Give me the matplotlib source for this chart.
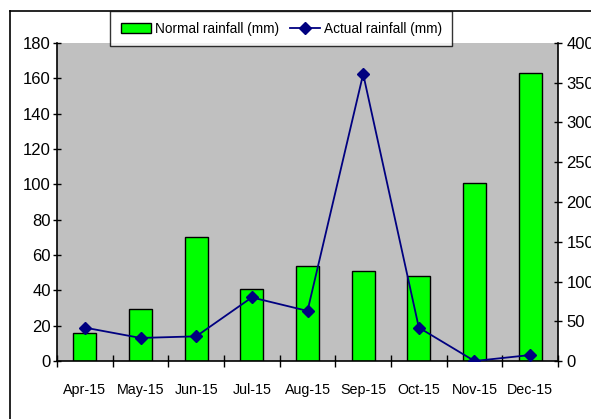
import matplotlib
matplotlib.use("Agg")
import matplotlib.pyplot as plt
import numpy as np
from matplotlib.lines import Line2D

months = ["Apr-15", "May-15", "Jun-15", "Jul-15", "Aug-15", "Sep-15", "Oct-15", "Nov-15", "Dec-15"]
normal_rainfall = [16, 29.5, 70, 41, 54, 51, 48, 101, 163]
actual_rainfall = [42, 29, 31, 80, 63, 361, 42, 0, 7.5]
left_ticks = list(range(0, 181, 20))
right_ticks = list(range(0, 401, 50))

plt.rcParams['font.family'] = ['Liberation Sans', 'DejaVu Sans']

W, H = 591, 419
fig = plt.figure(figsize=(W / 100, H / 100), dpi=100)
fig.patch.set_facecolor('white')

ax = fig.add_axes([57 / W, 1 - 361 / H, (558 - 57) / W, (361 - 43) / H])
ax.set_facecolor('#C0C0C0')
x = np.arange(len(months))

bars = ax.bar(x, normal_rainfall, width=0.41, color='#00FF00', edgecolor='black', linewidth=1.0,
              label='Normal rainfall (mm)', zorder=2)
ax.set_xlim(-0.5, len(months) - 0.5)
ax.set_ylim(0, 180)
ax.set_yticks(left_ticks)
ax.set_xticks(x)
ax.set_xticklabels(months)
ax.set_xticks(np.arange(-0.5, len(months), 1.0), minor=True)
ax.tick_params(axis='x', which='major', length=0, pad=16, labelsize=10.3, colors='black')
ax.tick_params(axis='x', which='minor', direction='inout', length=8, width=1)
ax.tick_params(axis='y', direction='inout', length=6, width=1, pad=1.5, labelsize=12)
for s in ['top', 'right']:
    ax.spines[s].set_visible(False)
ax.spines['left'].set_linewidth(1.2)
ax.spines['bottom'].set_linewidth(1.2)

ax2 = ax.twinx()
line, = ax2.plot(x, actual_rainfall, color='#000080', marker='D', markersize=6.5, linewidth=1.3,
                 label='Actual rainfall (mm)', zorder=3)
ax2.set_ylim(0, 400)
ax2.set_yticks(right_ticks)
ax2.tick_params(axis='y', direction='inout', length=6, width=1, pad=3, labelsize=12)
for s in ['top', 'left', 'bottom']:
    ax2.spines[s].set_visible(False)
ax2.spines['right'].set_linewidth(1.2)

# outer frame (left and top edges visible)
fx0 = 10 / W
fy0 = 1 - 11 / H
fig.add_artist(Line2D([fx0, fx0], [fy0, -0.01], transform=fig.transFigure, color='black', linewidth=1.2))
fig.add_artist(Line2D([fx0, 1.01], [fy0, fy0], transform=fig.transFigure, color='black', linewidth=1.2))

handles = [bars, line]
leg = fig.legend(handles, [h.get_label() for h in handles], loc='upper left',
                 bbox_to_anchor=(110 / W, fy0), bbox_transform=fig.transFigure,
                 ncol=2, fontsize=9.8, frameon=True, fancybox=False, shadow=False,
                 borderpad=0.78, handlelength=2.2, handletextpad=0.3, columnspacing=0.8,
                 borderaxespad=0)
leg.get_frame().set_edgecolor('black')
leg.get_frame().set_linewidth(1.0)
leg.get_frame().set_facecolor('white')
leg.set_zorder(10)

fig.savefig('out.png', dpi=100)
